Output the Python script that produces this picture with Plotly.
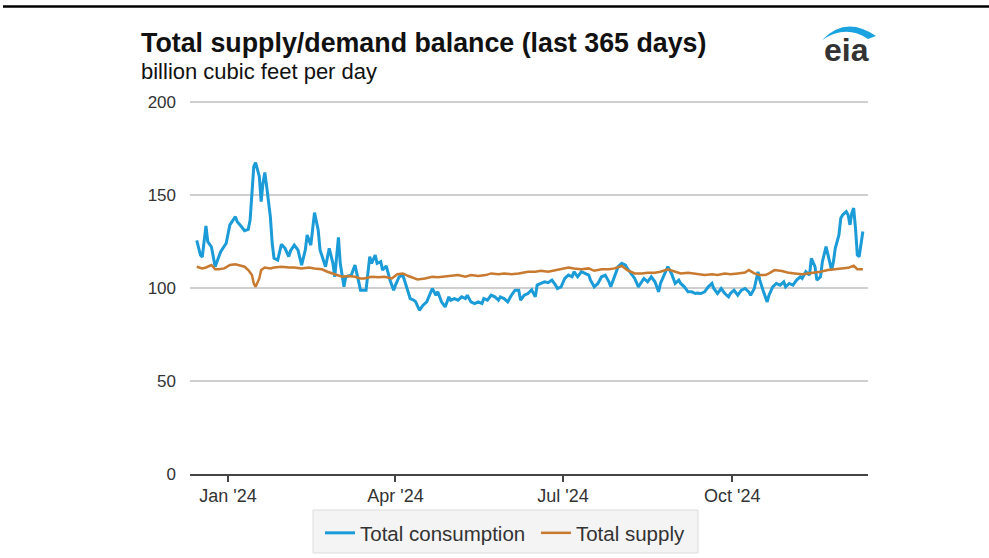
import plotly.graph_objects as go

cons_dates = ["2023-12-15","2023-12-17","2023-12-18","2023-12-20","2023-12-21","2023-12-23","2023-12-25","2023-12-27","2023-12-28","2023-12-31",
"2024-01-02","2024-01-05","2024-01-06","2024-01-08","2024-01-10","2024-01-12","2024-01-13","2024-01-15","2024-01-16","2024-01-18",
"2024-01-19","2024-01-20","2024-01-21","2024-01-22","2024-01-24","2024-01-25","2024-01-26","2024-01-28","2024-01-30","2024-02-01",
"2024-02-03","2024-02-04","2024-02-06","2024-02-08","2024-02-10","2024-02-12","2024-02-13","2024-02-15","2024-02-17","2024-02-19",
"2024-02-20","2024-02-23","2024-02-24","2024-02-25","2024-02-27","2024-02-28","2024-03-01","2024-03-02","2024-03-04","2024-03-05",
"2024-03-08","2024-03-10","2024-03-11","2024-03-13","2024-03-16","2024-03-18","2024-03-19","2024-03-21","2024-03-22","2024-03-24",
"2024-03-25","2024-03-27","2024-03-29","2024-03-31","2024-04-01","2024-04-03","2024-04-05","2024-04-07","2024-04-09","2024-04-11",
"2024-04-12","2024-04-14","2024-04-16","2024-04-18","2024-04-20","2024-04-21","2024-04-23","2024-04-24","2024-04-26","2024-04-28",
"2024-04-30","2024-05-01","2024-05-03","2024-05-05","2024-05-07","2024-05-09","2024-05-10","2024-05-12","2024-05-14","2024-05-16",
"2024-05-18","2024-05-19","2024-05-21","2024-05-23","2024-05-25","2024-05-27","2024-05-28","2024-05-30","2024-06-01","2024-06-03",
"2024-06-05","2024-06-07","2024-06-08","2024-06-10","2024-06-12","2024-06-14","2024-06-16","2024-06-17","2024-06-19","2024-06-21",
"2024-06-23","2024-06-25","2024-06-27","2024-06-28","2024-06-30","2024-07-02","2024-07-04","2024-07-06","2024-07-07","2024-07-09",
"2024-07-11","2024-07-13","2024-07-15","2024-07-16","2024-07-18","2024-07-20","2024-07-22","2024-07-24","2024-07-26","2024-07-27",
"2024-07-29","2024-07-31","2024-08-02","2024-08-04","2024-08-05","2024-08-07","2024-08-09","2024-08-11","2024-08-13","2024-08-14",
"2024-08-16","2024-08-18","2024-08-20","2024-08-22","2024-08-23","2024-08-25","2024-08-27","2024-08-29","2024-08-31","2024-09-02",
"2024-09-03","2024-09-05","2024-09-07","2024-09-09","2024-09-11","2024-09-12","2024-09-14","2024-09-16","2024-09-18","2024-09-20",
"2024-09-21","2024-09-23","2024-09-25","2024-09-27","2024-09-29","2024-09-30","2024-10-02","2024-10-04","2024-10-06","2024-10-08",
"2024-10-10","2024-10-11","2024-10-13","2024-10-15","2024-10-16","2024-10-18","2024-10-20","2024-10-21","2024-10-23","2024-10-25",
"2024-10-27","2024-10-29","2024-10-30","2024-11-01","2024-11-03","2024-11-05","2024-11-07","2024-11-08","2024-11-10","2024-11-12",
"2024-11-13","2024-11-15","2024-11-16","2024-11-18","2024-11-19","2024-11-21","2024-11-22","2024-11-24","2024-11-25","2024-11-26",
"2024-11-28","2024-11-29","2024-11-30","2024-12-02","2024-12-03","2024-12-04","2024-12-05","2024-12-06","2024-12-07","2024-12-08",
"2024-12-09","2024-12-10","2024-12-11"]

consumption = [125.6,117.7,116.6,133.3,124.9,122.0,111.4,116.8,119.5,124.0,
133.9,138.3,135.6,133.3,130.8,131.5,136.5,165.3,167.4,159.9,
146.4,156.3,162.0,154.5,138.3,124.0,115.9,115.0,123.4,121.3,
116.8,120.0,123.0,120.4,112.3,120.4,128.5,123.0,140.5,131.2,
120.4,111.4,116.8,121.3,113.2,106.0,127.2,113.2,100.6,106.0,
106.9,112.3,107.8,98.8,98.8,116.8,113.2,117.7,113.2,114.1,
109.6,111.8,104.2,98.8,101.5,106.0,106.9,100.6,94.3,93.4,
92.5,88.0,90.7,92.5,97.0,99.7,96.1,97.9,92.5,89.8,
95.2,93.4,94.3,93.4,95.2,94.3,96.1,92.5,91.6,92.5,
91.6,94.3,93.4,96.1,95.2,93.4,95.2,94.3,92.5,96.1,
98.8,98.8,93.4,96.1,97.0,99.0,95.2,101.5,102.4,103.3,
102.8,104.2,101.5,99.7,100.6,105.1,106.9,106.0,108.7,106.0,
108.7,107.8,106.9,104.2,100.6,102.4,106.0,106.9,103.3,100.6,
106.0,111.4,113.2,112.3,110.5,107.8,105.1,100.6,103.3,105.1,
103.3,106.0,103.3,97.9,102.4,106.9,111.4,107.8,102.4,104.2,
102.4,100.6,97.9,97.9,97.0,97.2,97.0,97.9,100.6,102.4,
99.7,97.0,99.7,97.0,95.2,97.0,98.8,96.1,98.8,99.7,
97.9,96.1,99.7,108.7,104.2,97.9,92.5,96.1,100.6,102.4,
101.5,103.3,100.6,102.4,101.5,104.2,106.0,105.1,108.7,106.9,
115.9,111.4,104.2,106.0,114.1,122.2,117.7,109.6,114.1,121.3,
128.5,137.5,139.2,141.0,139.2,133.9,140.2,142.9,132.1,117.7,
116.8,124.0,130.3]

supply_dates = ["2023-12-15","2023-12-18","2023-12-20","2023-12-23","2023-12-25","2023-12-27","2023-12-30","2024-01-02","2024-01-05","2024-01-07",
"2024-01-10","2024-01-12","2024-01-14","2024-01-15","2024-01-16","2024-01-18","2024-01-19","2024-01-21","2024-01-24","2024-01-26",
"2024-01-30","2024-02-03","2024-02-06","2024-02-10","2024-02-14","2024-02-17","2024-02-21","2024-02-24","2024-02-28","2024-03-03",
"2024-03-06","2024-03-10","2024-03-13","2024-03-15","2024-03-19","2024-03-23","2024-03-26","2024-03-30","2024-04-02","2024-04-05",
"2024-04-08","2024-04-11","2024-04-13","2024-04-17","2024-04-21","2024-04-24","2024-04-28","2024-05-01","2024-05-05","2024-05-09",
"2024-05-12","2024-05-16","2024-05-20","2024-05-23","2024-05-27","2024-05-30","2024-06-03","2024-06-07","2024-06-10","2024-06-12",
"2024-06-16","2024-06-19","2024-06-23","2024-06-27","2024-06-30","2024-07-04","2024-07-07","2024-07-11","2024-07-15","2024-07-18",
"2024-07-22","2024-07-26","2024-07-29","2024-08-02","2024-08-05","2024-08-09","2024-08-13","2024-08-16","2024-08-20","2024-08-23",
"2024-08-27","2024-08-31","2024-09-03","2024-09-07","2024-09-11","2024-09-14","2024-09-16","2024-09-20","2024-09-23","2024-09-27",
"2024-09-30","2024-10-04","2024-10-08","2024-10-10","2024-10-13","2024-10-16","2024-10-19","2024-10-21","2024-10-24","2024-10-28",
"2024-10-31","2024-11-04","2024-11-08","2024-11-11","2024-11-15","2024-11-18","2024-11-22","2024-11-26","2024-11-29","2024-12-03",
"2024-12-06","2024-12-08","2024-12-11"]

supply = [111.4,110.5,111.0,112.3,110.0,110.0,110.5,112.3,112.7,112.3,
111.4,109.6,106.9,102.4,100.6,105.1,109.6,111.0,110.5,111.0,
111.4,111.0,111.0,110.5,111.0,110.5,110.0,108.7,107.4,106.0,
106.4,106.0,105.1,105.1,106.0,105.7,106.0,105.1,107.4,107.8,
106.4,105.1,104.6,105.1,106.0,105.7,106.0,106.4,106.9,106.0,
106.9,106.4,106.9,107.8,107.4,107.8,107.4,107.8,108.2,108.7,
108.7,109.2,108.7,109.6,110.0,111.0,110.5,110.0,110.5,109.2,
110.0,110.0,110.5,111.8,109.6,107.8,107.8,108.2,108.2,108.7,
110.0,108.7,107.8,108.2,107.8,107.3,106.9,107.3,106.9,107.8,
107.3,107.8,108.3,109.6,107.8,106.9,106.9,107.8,109.6,109.1,
108.3,107.8,107.3,107.8,108.3,108.7,109.6,110.1,110.1,110.8,
111.9,110.1,110.1]

y_ticks = [0, 50, 100, 150, 200]
x_tick_dates = ["2024-01-01", "2024-04-01", "2024-07-01", "2024-10-01"]
x_tick_labels = ["Jan '24", "Apr '24", "Jul '24", "Oct '24"]

W, H = 989, 558
L, R, T, B = 190, 868, 100, 474   # plot area in page pixels
Y_TOP = 201                        # a little headroom so the 200 gridline is drawn

def px(x):
    return (x - L) / (R - L)

def py(y):
    return (B - y) / (B - T)

FONT = "Liberation Sans, Arial, sans-serif"
BLUE = "#1b9bd7"
ORANGE = "#c77a30"

fig = go.Figure()
fig.add_trace(go.Scatter(x=cons_dates, y=consumption, mode="lines", name="Total consumption\u00a0",
                         line=dict(color=BLUE, width=3)))
fig.add_trace(go.Scatter(x=supply_dates, y=supply, mode="lines", name="Total supply",
                         line=dict(color=ORANGE, width=2.5)))

swoosh = "M {} {} Q {} {} {} {} L {} {} Q {} {} {} {} Z".format(
    px(822), py(40), px(846), py(15), px(876), py(36),
    px(868), py(39), px(846), py(24), px(822), py(40))

fig.update_layout(
    width=W, height=H,
    margin=dict(l=L, r=W - R, t=T, b=H - B, pad=0, autoexpand=False),
    paper_bgcolor="white", plot_bgcolor="white",
    font=dict(family=FONT, color="#333333"),
    showlegend=True,
    legend=dict(orientation="h", xref="container", yref="container",
                x=320 / W, y=1 - 533 / H, xanchor="left", yanchor="middle",
                bgcolor="rgba(0,0,0,0)", borderwidth=0,
                font=dict(size=20.5, color="#333333", family=FONT),
                itemwidth=30, tracegroupgap=0),
    xaxis=dict(type="date", range=["2023-12-11 08:00", "2024-12-13 19:00"],
               tickvals=x_tick_dates, ticktext=x_tick_labels,
               showgrid=False, showline=True, linecolor="#444444", linewidth=2,
               ticks="outside", ticklen=6, tickwidth=1.5, tickcolor="#444444",
               ticklabelstandoff=-2,
               tickfont=dict(size=18, color="#333333"), zeroline=False, fixedrange=True),
    yaxis=dict(range=[0, Y_TOP], tickvals=y_ticks, showgrid=True, gridcolor="#cfcfcf", gridwidth=2,
               zeroline=False, showline=False, ticks="", ticklabelstandoff=13,
               tickfont=dict(size=17, color="#333333"), fixedrange=True),
    shapes=[
        dict(type="line", xref="paper", yref="paper", x0=px(3), x1=px(989), y0=py(6.5), y1=py(6.5),
             line=dict(color="black", width=2.5)),
        dict(type="path", xref="paper", yref="paper", path=swoosh,
             fillcolor="#1aa3e0", line=dict(width=0)),
        # legend box
        dict(type="rect", xref="paper", yref="paper", x0=px(313), x1=px(698), y0=py(553), y1=py(510),
             fillcolor="#f4f4f4", line=dict(color="#dddddd", width=1), layer="below"),
    ],
    annotations=[
        dict(text="<b>Total supply/demand balance (last 365 days)</b>", xref="paper", yref="paper",
             x=px(139), y=py(43), xanchor="left", yanchor="middle", showarrow=False,
             font=dict(size=26.8, color="#111111", family=FONT)),
        dict(text="billion cubic feet per day", xref="paper", yref="paper",
             x=px(139), y=py(72), xanchor="left", yanchor="middle", showarrow=False,
             font=dict(size=22, color="#111111", family=FONT)),
        dict(text="<b>eia</b>", xref="paper", yref="paper",
             x=px(846), y=py(50), xanchor="center", yanchor="middle", showarrow=False,
             font=dict(size=32, color="#333333", family=FONT)),
    ],
)

# remove the default 8px page margin so the figure sits at the window origin
fig.write_html("out.html", config={"displayModeBar": False},
               post_script="document.body.style.margin='0px';document.body.style.overflow='hidden';")
